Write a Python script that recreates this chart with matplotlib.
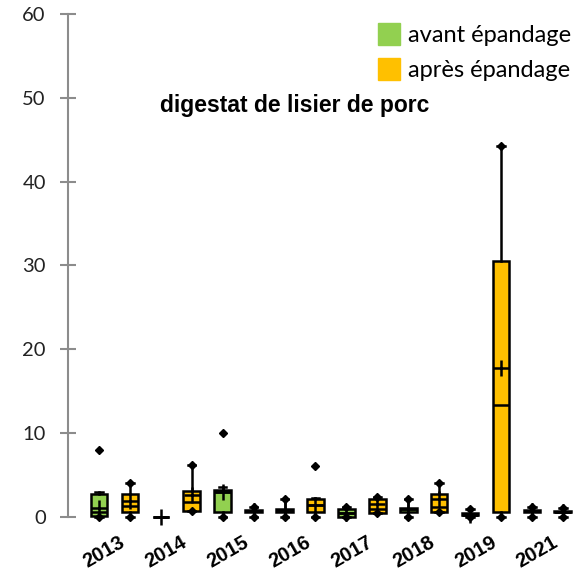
import matplotlib.pyplot as plt
from matplotlib.lines import Line2D
import numpy as np

# years on the axis
years = ['2013', '2014', '2015', '2016', '2017', '2018', '2019', '2021']

# avant épandage (green)
av_q1 = [0.1, 0.0, 0.6, 0.6, 0.0, 0.65, 0.2, 0.6]
av_q3 = [2.8, 0.0, 3.2, 1.0, 0.9, 1.1, 0.45, 0.85]
av_med = [0.6, 0.0, 3.0, 0.8, 0.45, 0.9, 0.3, 0.75]
av_mean = [1.1, 0.0, 3.0, 0.8, 0.45, 0.9, 0.3, 0.75]
av_hi = [3.0, 0.0, 3.6, 2.1, 1.15, 2.1, 0.9, 1.2]
av_lo = [0.0, 0.0, 0.0, 0.0, 0.0, 0.0, 0.0, 0.0]
av_pts = [[8.0, 0.0], [], [10.0, 0.0], [2.1, 0.0], [1.15, 0.0], [2.1, 0.0], [0.9, 0.0], [1.2, 0.0]]

# après épandage (orange)
ap_q1 = [0.6, 0.75, 0.6, 0.6, 0.5, 0.6, 0.6, 0.55]
ap_q3 = [2.7, 3.1, 0.8, 2.1, 2.1, 2.7, 30.5, 0.75]
ap_med = [1.35, 1.8, 0.7, 1.4, 1.0, 1.15, 13.4, 0.65]
ap_mean = [1.9, 2.6, 0.7, 1.4, 1.6, 2.1, 17.8, 0.65]
ap_hi = [4.1, 6.2, 1.2, 2.3, 2.35, 4.1, 44.2, 1.1]
ap_lo = [0.0, 0.75, 0.0, 0.0, 0.5, 0.6, 0.0, 0.0]
ap_pts = [[4.1, 0.0], [6.2, 0.75], [1.2, 0.0], [6.1, 0.0], [2.35, 0.5], [4.1, 0.6], [44.2, 0.0], [1.1, 0.0]]

green = '#92D050'
orange = '#FFC000'


def stats(q1, q3, med, mean, lo, hi, pts):
    out = []
    for i in range(len(q1)):
        out.append(dict(q1=q1[i], q3=q3[i], med=med[i], mean=mean[i],
                        whislo=lo[i], whishi=hi[i], fliers=pts[i]))
    return out


fig = plt.figure(figsize=(5.82, 5.76), dpi=100)
ax = fig.add_axes([0.117, 0.1024, 0.883, 0.8736])

x = np.arange(len(years))
common = dict(widths=0.27, patch_artist=True, showmeans=True, capwidths=0.12,
              whiskerprops=dict(color='black', lw=1.8),
              capprops=dict(color='black', lw=1.8),
              medianprops=dict(color='black', lw=1.8),
              meanprops=dict(marker='+', markersize=12, markeredgecolor='black',
                             markeredgewidth=1.8),
              flierprops=dict(marker='D', markersize=4.5, markerfacecolor='black',
                              markeredgecolor='black'),
              manage_ticks=False)

for s, pos, col in [(stats(av_q1, av_q3, av_med, av_mean, av_lo, av_hi, av_pts), x - 0.25, green),
                    (stats(ap_q1, ap_q3, ap_med, ap_mean, ap_lo, ap_hi, ap_pts), x + 0.25, orange)]:
    bp = ax.bxp(s, positions=pos, boxprops=dict(facecolor=col, edgecolor='black', lw=1.8), **common)
    for k in bp:
        for a in bp[k]:
            a.set_clip_on(False)

ax.set_xlim(-0.75, 7.56)
ax.set_ylim(0, 60)
ax.set_yticks(np.arange(0, 61, 10))

for sp in ['top', 'right', 'bottom']:
    ax.spines[sp].set_visible(False)
ax.spines['left'].set_color('#8c8c8c')
ax.spines['left'].set_linewidth(1.5)
ax.tick_params(axis='y', direction='inout', length=12, width=1.5, color='#8c8c8c',
               labelsize=14.5, labelcolor='#222222', pad=10)
for t in ax.get_yticklabels():
    t.set_family('Lato')

ax.set_xticks(x + 0.15)
ax.set_xticklabels(years, rotation=30, ha='right', va='center', rotation_mode='anchor',
                   fontsize=14.5, fontweight='bold', family='Liberation Sans')
ax.tick_params(axis='x', length=0, pad=17)

ax.text(0.44, 0.817, 'digestat de lisier de porc', transform=ax.transAxes,
        ha='center', va='center', fontsize=16.5, fontweight='bold', family='Liberation Sans')

handles = [Line2D([], [], ls='', marker='s', markersize=16, markerfacecolor=green, markeredgecolor=green),
           Line2D([], [], ls='', marker='s', markersize=16, markerfacecolor=orange, markeredgecolor=orange)]
ax.legend(handles, ['avant épandage', 'après épandage'], loc='upper right',
          bbox_to_anchor=(1.02, 1.02), frameon=False, handlelength=1.0, handletextpad=0.3,
          labelspacing=0.6, prop=dict(family='Lato', size=17))

fig.savefig('out.png', dpi=100)
